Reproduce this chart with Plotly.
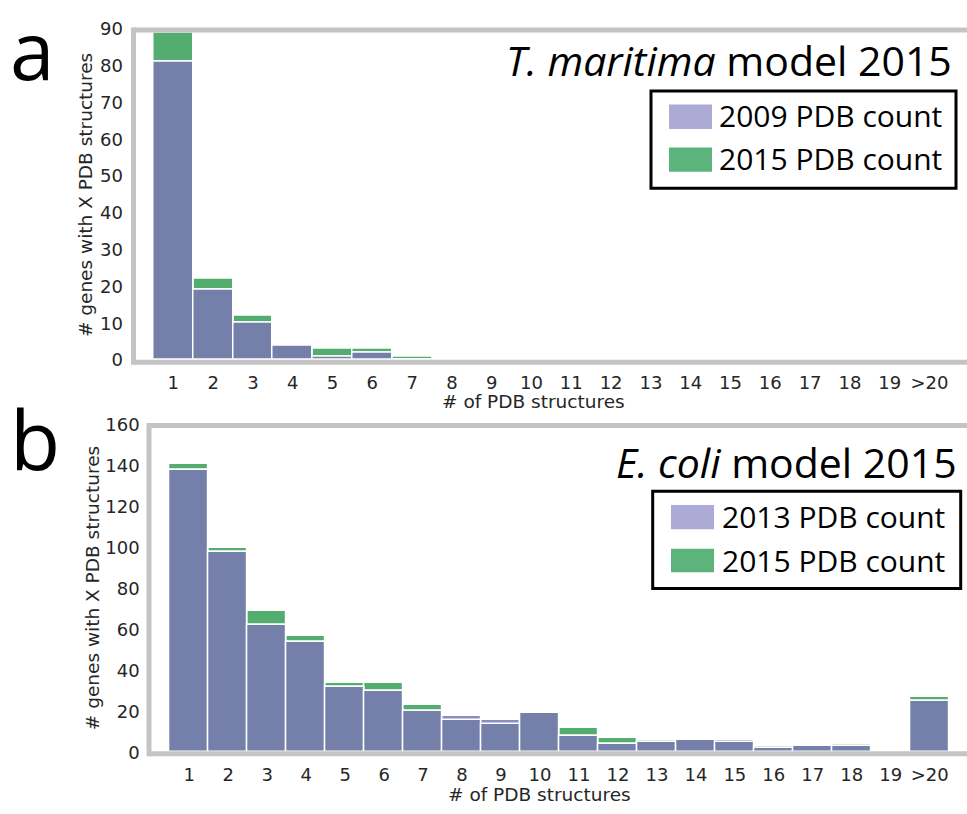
import numpy as np
import plotly.graph_objects as go

# ---------------- data ----------------
bins = ["1", "2", "3", "4", "5", "6", "7", "8", "9", "10",
        "11", "12", "13", "14", "15", "16", "17", "18", "19", ">20"]
positions = list(range(1, 21))

# Panel a: T. maritima
tm_2009 = [81, 19, 10, 4, 1, 2, 0, 0, 0, 0, 0, 0, 0, 0, 0, 0, 0, 0, 0, 0]
tm_2015 = [89, 22, 12, 4, 3, 3, 1, 0, 0, 0, 0, 0, 0, 0, 0, 0, 0, 0, 0, 0]

# Panel b: E. coli
ec_2013 = [138, 98, 62, 54, 32, 30, 20, 18, 16, 19, 8, 4, 5, 6, 6, 2, 3, 3, 0, 25]
ec_2015 = [141, 100, 69, 57, 34, 34, 23, 16, 14, 19, 12, 7, 6, 6, 5, 3, 3, 4, 0, 27]

yticks_a = list(range(0, 91, 10))
yticks_b = list(range(0, 161, 20))

legend_a = ["2009 PDB count", "2015 PDB count"]
legend_b = ["2013 PDB count", "2015 PDB count"]

# ---------------- style ----------------
W, H = 967, 814
SLATE = "#7480a9"
GREEN = "#52ad6e"
LIGHTPURPLE = "#8c8cc4"
LEG_LAV = "#aeaad6"
LEG_GREEN = "#5db37c"
FRAME = "#c4c4c4"
TXT = "#262626"


def X(px):
    return px / W


def Y(py):
    return 1 - py / H


fig = go.Figure()


def add_panel(old, new, xa, ya):
    old = np.array(old)
    new = np.array(new)
    overlap = np.minimum(old, new)
    common = dict(x=positions, width=1.0, xaxis=xa, yaxis=ya, showlegend=False,
                  hoverinfo="skip", marker_line_color="white", marker_line_width=1.5)
    fig.add_trace(go.Bar(y=new, marker_color=GREEN, **common))
    fig.add_trace(go.Bar(y=old, marker_color=LIGHTPURPLE, **common))
    fig.add_trace(go.Bar(y=overlap, marker_color=SLATE, **common))


add_panel(tm_2009, tm_2015, "x", "y")
add_panel(ec_2013, ec_2015, "x2", "y2")

tickfont = dict(family="DejaVu Sans", size=18, color=TXT)
xcommon = dict(tickmode="array", tickvals=positions, ticktext=bins, tickfont=tickfont,
               showgrid=False, zeroline=False, showline=False,
               ticks="outside", ticklen=6, tickcolor="rgba(0,0,0,0)", fixedrange=True)
ycommon = dict(tickmode="array", tickfont=tickfont, showgrid=False, zeroline=False,
               showline=False, ticks="outside", ticklen=6, tickcolor="rgba(0,0,0,0)",
               fixedrange=True)

# pixel geometry
A_L, A_B, A_T = 133.5, 358.3, 18.3
B_L, B_B, B_T = 150.3, 761.0, 425.0

fig.update_layout(
    width=W, height=H,
    margin=dict(l=0, r=0, t=0, b=0),
    paper_bgcolor="white", plot_bgcolor="white",
    barmode="overlay", bargap=0,
    xaxis=dict(domain=[X(A_L), 1], range=[0, (W - A_L) / 39.8], anchor="y", **xcommon),
    yaxis=dict(domain=[Y(A_B), Y(A_T)], range=[0, 90], tickvals=yticks_a, anchor="x", **ycommon),
    xaxis2=dict(domain=[X(B_L), 1], range=[0, (W - B_L) / 38.97], anchor="y2", **xcommon),
    yaxis2=dict(domain=[Y(B_B), Y(B_T)], range=[0, 160], tickvals=yticks_b, anchor="x2", **ycommon),
)

shapes = []
annotations = []


def frame(left, top, bottom):
    lw = 5
    for (x0, y0, x1, y1) in [(left, top, W + 20, top), (left, bottom, W + 20, bottom),
                             (left, top - 2.5, left, bottom + 2.5)]:
        shapes.append(dict(type="line", xref="paper", yref="paper",
                           x0=X(x0), y0=Y(y0), x1=X(x1), y1=Y(y1),
                           line=dict(color=FRAME, width=lw), layer="above"))


frame(133.5, 19.5, 360.5)
frame(149.0, 425.5, 762.5)


def legend(box, swatches, labels, colors, textx, texty):
    x0, y0, x1, y1 = box
    shapes.append(dict(type="rect", xref="paper", yref="paper",
                       x0=X(x0), y0=Y(y0), x1=X(x1), y1=Y(y1),
                       line=dict(color="black", width=3), fillcolor="white", layer="above"))
    for (sx0, sy0, sx1, sy1), c in zip(swatches, colors):
        shapes.append(dict(type="rect", xref="paper", yref="paper",
                           x0=X(sx0), y0=Y(sy0), x1=X(sx1), y1=Y(sy1),
                           line=dict(width=0), fillcolor=c, layer="above"))
    for lab, ty in zip(labels, texty):
        annotations.append(dict(text=lab, xref="paper", yref="paper", x=X(textx), y=Y(ty),
                                xanchor="left", yanchor="middle", showarrow=False,
                                font=dict(family="Open Sans", size=30, color="black")))


legend((651, 82, 956, 182), [(669, 96, 712, 121), (669, 140, 712, 165)],
       legend_a, [LEG_LAV, LEG_GREEN], 717, [107.5, 151.5])
legend((652.7, 493, 960.7, 592.7), [(671, 507, 714, 532), (671, 552, 714, 576)],
       legend_b, [LEG_LAV, LEG_GREEN], 720, [519, 564])

# titles
annotations.append(dict(text="<i>T. maritima</i> model 2015", xref="paper", yref="paper",
                        x=X(954), y=Y(50), xanchor="right", yanchor="middle", showarrow=False,
                        font=dict(family="Open Sans", size=41, color="black")))
annotations.append(dict(text="<i>E. coli</i> model 2015", xref="paper", yref="paper",
                        x=X(959), y=Y(462.5), xanchor="right", yanchor="middle", showarrow=False,
                        font=dict(family="Open Sans", size=41, color="black")))
# panel letters
annotations.append(dict(text="a", xref="paper", yref="paper", x=X(8), y=Y(39),
                        xanchor="left", yanchor="middle", showarrow=False,
                        font=dict(family="Open Sans", size=80, color="black")))
annotations.append(dict(text="b", xref="paper", yref="paper", x=X(8), y=Y(438),
                        xanchor="left", yanchor="middle", showarrow=False,
                        font=dict(family="Open Sans", size=82, color="black")))
# axis titles
tf = dict(family="DejaVu Sans", size=18.5, color=TXT)
annotations.append(dict(text="# of PDB structures", xref="paper", yref="paper", x=X(533), y=Y(401),
                        xanchor="center", yanchor="middle", showarrow=False, font=tf))
annotations.append(dict(text="# of PDB structures", xref="paper", yref="paper", x=X(539), y=Y(804),
                        xanchor="center", yanchor="middle", showarrow=False, font=tf))
annotations.append(dict(text="# genes with X PDB structures", xref="paper", yref="paper",
                        x=X(85), y=Y(189), xanchor="center", yanchor="middle", textangle=-90,
                        showarrow=False, font=tf))
annotations.append(dict(text="# genes with X PDB structures", xref="paper", yref="paper",
                        x=X(92), y=Y(592.5), xanchor="center", yanchor="middle", textangle=-90,
                        showarrow=False, font=tf))

fig.update_layout(shapes=shapes, annotations=annotations)
fig.write_html("out.html")
